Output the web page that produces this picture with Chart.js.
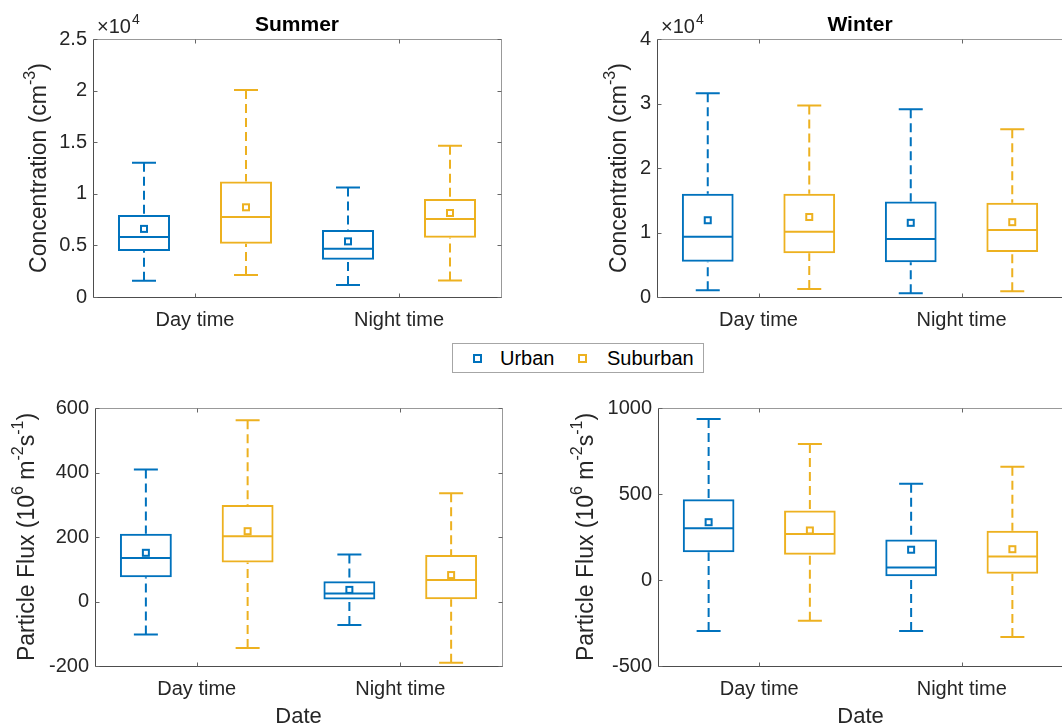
<!DOCTYPE html>
<html>
<head>
<meta charset="utf-8">
<script src="https://cdn.jsdelivr.net/npm/chart.js@4.4.0/dist/chart.umd.min.js"></script>
<style>
  html, body { margin: 0; padding: 0; background: #fff; overflow: hidden; }
  #wrap { position: relative; width: 1062px; height: 728px; overflow: hidden; }
  #wrap canvas { position: absolute; }
  #legend {
    position: absolute; left: 452px; top: 343px; width: 250px; height: 28px;
    border: 1px solid #a6a6a6; background: #fff;
    font-family: 'Liberation Sans', Arial, sans-serif; font-size: 20px; color: #000;
  }
  #legend .item { position: absolute; top: 2px; line-height: 24px; }
  #legend .mk { position: absolute; top: 10px; width: 5px; height: 5px; border: 2px solid; }
</style>
</head>
<body>
<div id="wrap">
  <canvas id="c1" width="531" height="340" style="left:0;top:0"></canvas>
  <canvas id="c2" width="540" height="340" style="left:531px;top:0"></canvas>
  <canvas id="c3" width="531" height="348" style="left:0;top:380px"></canvas>
  <canvas id="c4" width="540" height="348" style="left:531px;top:380px"></canvas>
  <div id="legend">
    <span class="mk" style="left:20px;border-color:#0072BD"></span>
    <span class="item" style="left:47px">Urban</span>
    <span class="mk" style="left:125px;border-color:#EDB120"></span>
    <span class="item" style="left:154px">Suburban</span>
  </div>
</div>
<script>
// Box statistics per category: [lower whisker, Q1, median, Q3, upper whisker, mean]
const categories = ['Day time', 'Night time'];
const seriesNames = ['Urban', 'Suburban'];

const summerConcUrban    = [[1580, 4460, 5810, 7950, 13000, 6600], [1160, 3620, 4680, 6490, 10600, 5390]];
const summerConcSuburban = [[2130, 5170, 7750, 11180, 20060, 8690], [1610, 5750, 7560, 9500, 14660, 8140]];
const winterConcUrban    = [[1030, 5480, 9350, 16000, 31600, 11900], [570, 5370, 9000, 14800, 29100, 11500]];
const winterConcSuburban = [[1240, 6770, 10100, 16000, 29700, 12400], [880, 6980, 10400, 14600, 26000, 11600]];
const summerFluxUrban    = [[-102, 75, 135, 210, 409, 151], [-73, 6, 25, 63, 146, 36]];
const summerFluxSuburban = [[-144, 121, 202, 299, 562, 218], [-190, 7, 67, 144, 336, 82]];
const winterFluxUrban    = [[-297, 162, 301, 470, 936, 336], [-297, 22, 73, 235, 559, 176]];
const winterFluxSuburban = [[-237, 147, 267, 404, 791, 288], [-332, 36, 137, 286, 659, 179]];

const summerConcTicks = [0, 5000, 10000, 15000, 20000, 25000];
const winterConcTicks = [0, 10000, 20000, 30000, 40000];
const summerFluxTicks = [-200, 0, 200, 400, 600];
const winterFluxTicks = [-500, 0, 500, 1000];

const FONT = "'Liberation Sans', Arial, Helvetica, sans-serif";
const BLUE = '#0072BD';
const GOLD = '#EDB120';
const TEXT = '#262626';

// axis titles as [text, isSuperscript] runs
const concTitle = [['Concentration (cm', false], ['-3', true], [')', false]];
const fluxTitle = [['Particle Flux (10', false], ['6', true], [' m', false], ['-2', true], ['s', false], ['-1', true], [')', false]];

const decor = {};

function drawRuns(ctx, runs, size, supSize) {
    let total = 0;
    runs.forEach(r => {
        ctx.font = (r[1] ? supSize : size) + 'px ' + FONT;
        total += ctx.measureText(r[0]).width;
    });
    let x = -total / 2;
    runs.forEach(r => {
        ctx.font = (r[1] ? supSize : size) + 'px ' + FONT;
        ctx.fillText(r[0], x, r[1] ? -9 : 0);
        x += ctx.measureText(r[0]).width;
    });
}

const boxPlugin = {
    id: 'boxWhiskers',
    afterDatasetsDraw(chart) {
        const ctx = chart.ctx;
        const ys = chart.scales.y;
        chart.data.datasets.forEach((ds, i) => {
            chart.getDatasetMeta(i).data.forEach((bar, j) => {
                const st = ds.stats[j];
                const x = bar.x, hw = bar.width / 2;
                const py = v => ys.getPixelForValue(v);
                ctx.save();
                ctx.strokeStyle = ds.borderColor;
                ctx.lineWidth = 2;
                ctx.beginPath();
                ctx.moveTo(x - hw + 1, py(st[2])); ctx.lineTo(x + hw - 1, py(st[2]));
                ctx.moveTo(x - 12, py(st[4])); ctx.lineTo(x + 12, py(st[4]));
                ctx.moveTo(x - 12, py(st[0])); ctx.lineTo(x + 12, py(st[0]));
                ctx.stroke();
                ctx.setLineDash([9, 5]);
                ctx.beginPath();
                ctx.moveTo(x, py(st[4])); ctx.lineTo(x, py(st[3]));
                ctx.stroke();
                ctx.beginPath();
                ctx.moveTo(x, py(st[0])); ctx.lineTo(x, py(st[1]));
                ctx.stroke();
                ctx.setLineDash([]);
                ctx.strokeRect(x - 3, py(st[5]) - 3, 6, 6);
                ctx.restore();
            });
        });
    }
};

const framePlugin = {
    id: 'panelFrame',
    afterDraw(chart) {
        const ctx = chart.ctx;
        const a = chart.chartArea;
        const d = decor[chart.canvas.id];
        const L = Math.round(a.left) + 0.5, R = Math.round(a.right) + 0.5;
        const T = Math.round(a.top) + 0.5, B = Math.round(a.bottom) + 0.5;
        ctx.save();
        ctx.lineWidth = 1;
        ctx.strokeStyle = '#999';
        ctx.beginPath();
        ctx.moveTo(L, T); ctx.lineTo(R, T); ctx.lineTo(R, B);
        ctx.stroke();
        ctx.strokeStyle = '#4d4d4d';
        ctx.beginPath();
        ctx.moveTo(L, T); ctx.lineTo(L, B); ctx.lineTo(R, B);
        ctx.stroke();
        // inward tick marks (right ones only where the frame is on screen)
        ctx.strokeStyle = '#666';
        ctx.beginPath();
        chart.scales.y.ticks.forEach(t => {
            const y = Math.round(chart.scales.y.getPixelForValue(t.value)) + 0.5;
            ctx.moveTo(L, y); ctx.lineTo(L + 4, y);
            if (d.rightTicks) { ctx.moveTo(R, y); ctx.lineTo(R - 4, y); }
        });
        categories.forEach((c, i) => {
            const x = Math.round(chart.scales.x.getPixelForValue(i)) + 0.5;
            ctx.moveTo(x, B); ctx.lineTo(x, B - 4);
            ctx.moveTo(x, T); ctx.lineTo(x, T + 4);
        });
        ctx.stroke();

        // panel title
        ctx.textBaseline = 'middle';
        ctx.textAlign = 'left';
        if (d.title) {
            ctx.fillStyle = '#000';
            ctx.font = 'bold 21px ' + FONT;
            const w = ctx.measureText(d.title).width;
            ctx.fillText(d.title, (a.left + a.right) / 2 - w / 2, 25);
        }
        // exponent label
        if (d.exp) {
            ctx.fillStyle = TEXT;
            ctx.textBaseline = 'alphabetic';
            ctx.font = '20px ' + FONT;
            const base = '\u00d710';
            ctx.fillText(base, a.left + 4, 33);
            const w = ctx.measureText(base).width;
            ctx.font = '14px ' + FONT;
            ctx.fillText(d.exp, a.left + 4 + w + 1, 24);
        }
        // y axis title
        ctx.fillStyle = TEXT;
        ctx.textBaseline = 'middle';
        ctx.translate(d.yTitleX, (a.top + a.bottom) / 2);
        ctx.rotate(-Math.PI / 2);
        drawRuns(ctx, d.yTitle, 23, 16);
        ctx.restore();
    }
};

function boxDataset(name, stats, color) {
    return {
        label: name,
        data: stats.map(s => [s[1], s[3]]),
        stats: stats,
        backgroundColor: 'rgba(0,0,0,0)',
        borderColor: color,
        borderWidth: 2,
        borderSkipped: false,
        barPercentage: 0.51,
        categoryPercentage: 1.0
    };
}

function makePanel(p) {
    decor[p.id] = p;
    const xScale = {
        grid: { display: false, drawTicks: false },
        border: { display: false },
        ticks: { color: TEXT, font: { family: FONT, size: 20 }, padding: 11, maxRotation: 0 },
        afterFit: s => { s.height = p.xh; }
    };
    if (p.xTitle) {
        xScale.title = {
            display: true, text: p.xTitle, color: TEXT,
            font: { family: FONT, size: 22, lineHeight: 1 },
            padding: { top: 0, bottom: 0 }
        };
    }
    return new Chart(document.getElementById(p.id), {
        type: 'bar',
        data: {
            labels: categories,
            datasets: [
                boxDataset(seriesNames[0], p.urban, BLUE),
                boxDataset(seriesNames[1], p.suburban, GOLD)
            ]
        },
        options: {
            responsive: false,
            animation: false,
            events: [],
            layout: { padding: p.pad },
            plugins: { legend: { display: false }, tooltip: { enabled: false } },
            scales: {
                x: xScale,
                y: {
                    min: p.ticks[0],
                    max: p.ticks[p.ticks.length - 1],
                    grid: { display: false, drawTicks: false },
                    border: { display: false },
                    afterBuildTicks: s => { s.ticks = p.ticks.map(v => ({ value: v })); },
                    ticks: {
                        color: TEXT,
                        font: { family: FONT, size: 20 },
                        padding: 6,
                        callback: v => String(v / p.div)
                    },
                    afterFit: s => { s.width = p.yw; }
                }
            }
        },
        plugins: [boxPlugin, framePlugin]
    });
}

makePanel({ id: 'c1', urban: summerConcUrban, suburban: summerConcSuburban, ticks: summerConcTicks, div: 1e4,
    title: 'Summer', exp: '4', yTitle: concTitle, yTitleX: 40, rightTicks: true,
    pad: { left: 0, top: 39, right: 30, bottom: 0 }, yw: 93, xh: 43 });
makePanel({ id: 'c2', urban: winterConcUrban, suburban: winterConcSuburban, ticks: winterConcTicks, div: 1e4,
    title: 'Winter', exp: '4', yTitle: concTitle, yTitleX: 89, rightTicks: false,
    pad: { left: 0, top: 39, right: 8, bottom: 0 }, yw: 126, xh: 43 });
makePanel({ id: 'c3', urban: summerFluxUrban, suburban: summerFluxSuburban, ticks: summerFluxTicks, div: 1,
    yTitle: fluxTitle, yTitleX: 28, xTitle: 'Date', rightTicks: true,
    pad: { left: 0, top: 28, right: 29, bottom: 0 }, yw: 95, xh: 62 });
makePanel({ id: 'c4', urban: winterFluxUrban, suburban: winterFluxSuburban, ticks: winterFluxTicks, div: 1,
    yTitle: fluxTitle, yTitleX: 56, xTitle: 'Date', rightTicks: false,
    pad: { left: 0, top: 28, right: 8, bottom: 0 }, yw: 127, xh: 62 });
</script>
</body>
</html>
